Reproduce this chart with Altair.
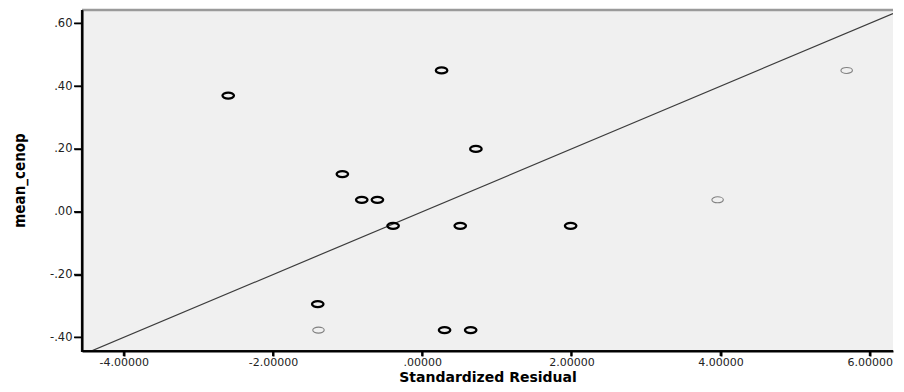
import altair as alt
import pandas as pd

# ---- data ----
x_resid = [-2.60, 0.26, 0.72, -1.07, -0.81, -0.60, -0.39, 0.51, 1.99, -1.40, -1.39, 0.30, 0.65, 3.96, 5.69]
y_mean = [0.37, 0.45, 0.20, 0.12, 0.038, 0.038, -0.045, -0.045, -0.045, -0.294, -0.377, -0.377, -0.377, 0.038, 0.45]
n_cases = [2, 2, 2, 2, 2, 2, 2, 2, 2, 2, 1, 2, 2, 1, 1]

x_ticks = [-4, -2, 0, 2, 4, 6]
x_tick_labels = ["-4.00000", "-2.00000", ".00000", "2.00000", "4.00000", "6.00000"]
y_ticks = [0.6, 0.4, 0.2, 0.0, -0.2, -0.4]
y_tick_labels = [".60", ".40", ".20", ".00", "-.20", "-.40"]

fit_slope = 0.1
fit_intercept = 0.0
x_domain = [-4.56, 6.311]
y_domain = [-0.4435, 0.6425]

W = 811
H = 341


def label_expr(values, labels):
    expr = "datum.label"
    for v, l in reversed(list(zip(values, labels))):
        expr = f"(abs(datum.value - ({v})) < 1e-6) ? '{l}' : ({expr})"
    return expr


points_df = pd.DataFrame({"resid": x_resid, "mean": y_mean, "n": n_cases})
line_df = pd.DataFrame({
    "resid": x_domain,
    "mean": [fit_intercept + fit_slope * v for v in x_domain],
})
xtick_df = pd.DataFrame({"tick": x_ticks})
ytick_df = pd.DataFrame({"tick": y_ticks})
frame_df = pd.DataFrame({"k": [0]})

xscale = alt.Scale(domain=x_domain, nice=False, zero=False)
yscale = alt.Scale(domain=y_domain, nice=False, zero=False)

label_font = "DejaVu Sans"
AXIS_DARK = "black"


def y_axis():
    return alt.Axis(
        values=y_ticks,
        labelExpr=label_expr(y_ticks, y_tick_labels),
        title="mean_cenop",
        titleFont="Liberation Sans Narrow, DejaVu Sans Condensed, Liberation Sans",
        titleFontSize=15,
        titleFontWeight="bold",
        titleColor="black",
        titleX=-55,
        titleY=170,
        titleAngle=270,
        titleAlign="center",
        titleBaseline="bottom",
        labelFont=label_font,
        labelFontSize=11.5,
        labelColor="#222222",
        labelPadding=2,
        tickSize=8,
        tickColor=AXIS_DARK,
        tickWidth=1.5,
        domain=True,
        domainColor=AXIS_DARK,
        domainWidth=2,
        grid=False,
        zindex=1,
    )


x_axis_bottom = alt.Axis(
    orient="bottom",
    values=x_ticks,
    labelExpr=label_expr(x_ticks, x_tick_labels),
    title="Standardized Residual",
    titleFont="DejaVu Sans",
    titleFontSize=14,
    titleFontWeight="bold",
    titleColor="black",
    titleY=30,
    titleBaseline="alphabetic",
    labelFont=label_font,
    labelFontSize=11,
    labelColor="#222222",
    labelPadding=0,
    tickSize=5,
    tickColor=AXIS_DARK,
    tickWidth=2,
    domain=True,
    domainColor=AXIS_DARK,
    domainWidth=2,
    grid=False,
    zindex=1,
)

ellipse = "M-1,0 A1,0.52 0 1,0 1,0 A1,0.52 0 1,0 -1,0 Z"

# fit / reference line
line = alt.Chart(line_df).mark_line(color="#3c3c3c", strokeWidth=1.2, clip=True).encode(
    x=alt.X("resid:Q", scale=xscale, axis=None),
    y=alt.Y("mean:Q", scale=yscale, axis=y_axis()),
)

# frame: top border (gray), left and bottom axis lines (dark)
top_border = alt.Chart(frame_df).mark_rule(color="#9a9a9a", strokeWidth=2.5).encode(
    x=alt.value(0), x2=alt.value(W), y=alt.value(0)
)
left_line = alt.Chart(frame_df).mark_rule(color="#111111", strokeWidth=2.2).encode(
    x=alt.value(0), y=alt.value(0), y2=alt.value(H + 1)
)
bottom_line = alt.Chart(frame_df).mark_rule(color="#111111", strokeWidth=2.2).encode(
    x=alt.value(-1), x2=alt.value(W), y=alt.value(H)
)

# tick marks
x_tick_marks = alt.Chart(xtick_df).mark_rule(color="#111111", strokeWidth=2).encode(
    x=alt.X("tick:Q", scale=xscale, axis=None),
    y=alt.value(H),
    y2=alt.value(H + 5),
)
y_tick_marks = alt.Chart(ytick_df).mark_rule(color="#111111", strokeWidth=1.5).encode(
    y=alt.Y("tick:Q", scale=yscale, axis=y_axis()),
    x=alt.value(-8),
    x2=alt.value(0),
)

# points: several cases at one spot drawn heavy and black, single cases thin and gray
points_multi = (
    alt.Chart(points_df)
    .transform_filter("datum.n > 1")
    .mark_point(shape=ellipse, size=132, filled=False, opacity=1, color="#000000", strokeWidth=2.3)
    .encode(
        x=alt.X("resid:Q", scale=xscale, axis=x_axis_bottom),
        y=alt.Y("mean:Q", scale=yscale, axis=y_axis()),
    )
)
points_single = (
    alt.Chart(points_df)
    .transform_filter("datum.n == 1")
    .mark_point(shape=ellipse, size=132, filled=False, opacity=1, color="#808080", strokeWidth=1.1)
    .encode(
        x=alt.X("resid:Q", scale=xscale, axis=None),
        y=alt.Y("mean:Q", scale=yscale, axis=y_axis()),
    )
)

chart = (
    alt.layer(line, top_border, left_line, bottom_line, x_tick_marks, y_tick_marks, points_single, points_multi)
    .resolve_axis(x="independent")
    .properties(
        width=W,
        height=H,
        padding={"left": 4, "top": 0, "right": 0, "bottom": 0},
    )
    .configure_view(fill="#f0f0f0", strokeWidth=0)
)

chart.save("out.html", embed_options={"renderer": "svg", "actions": False})
